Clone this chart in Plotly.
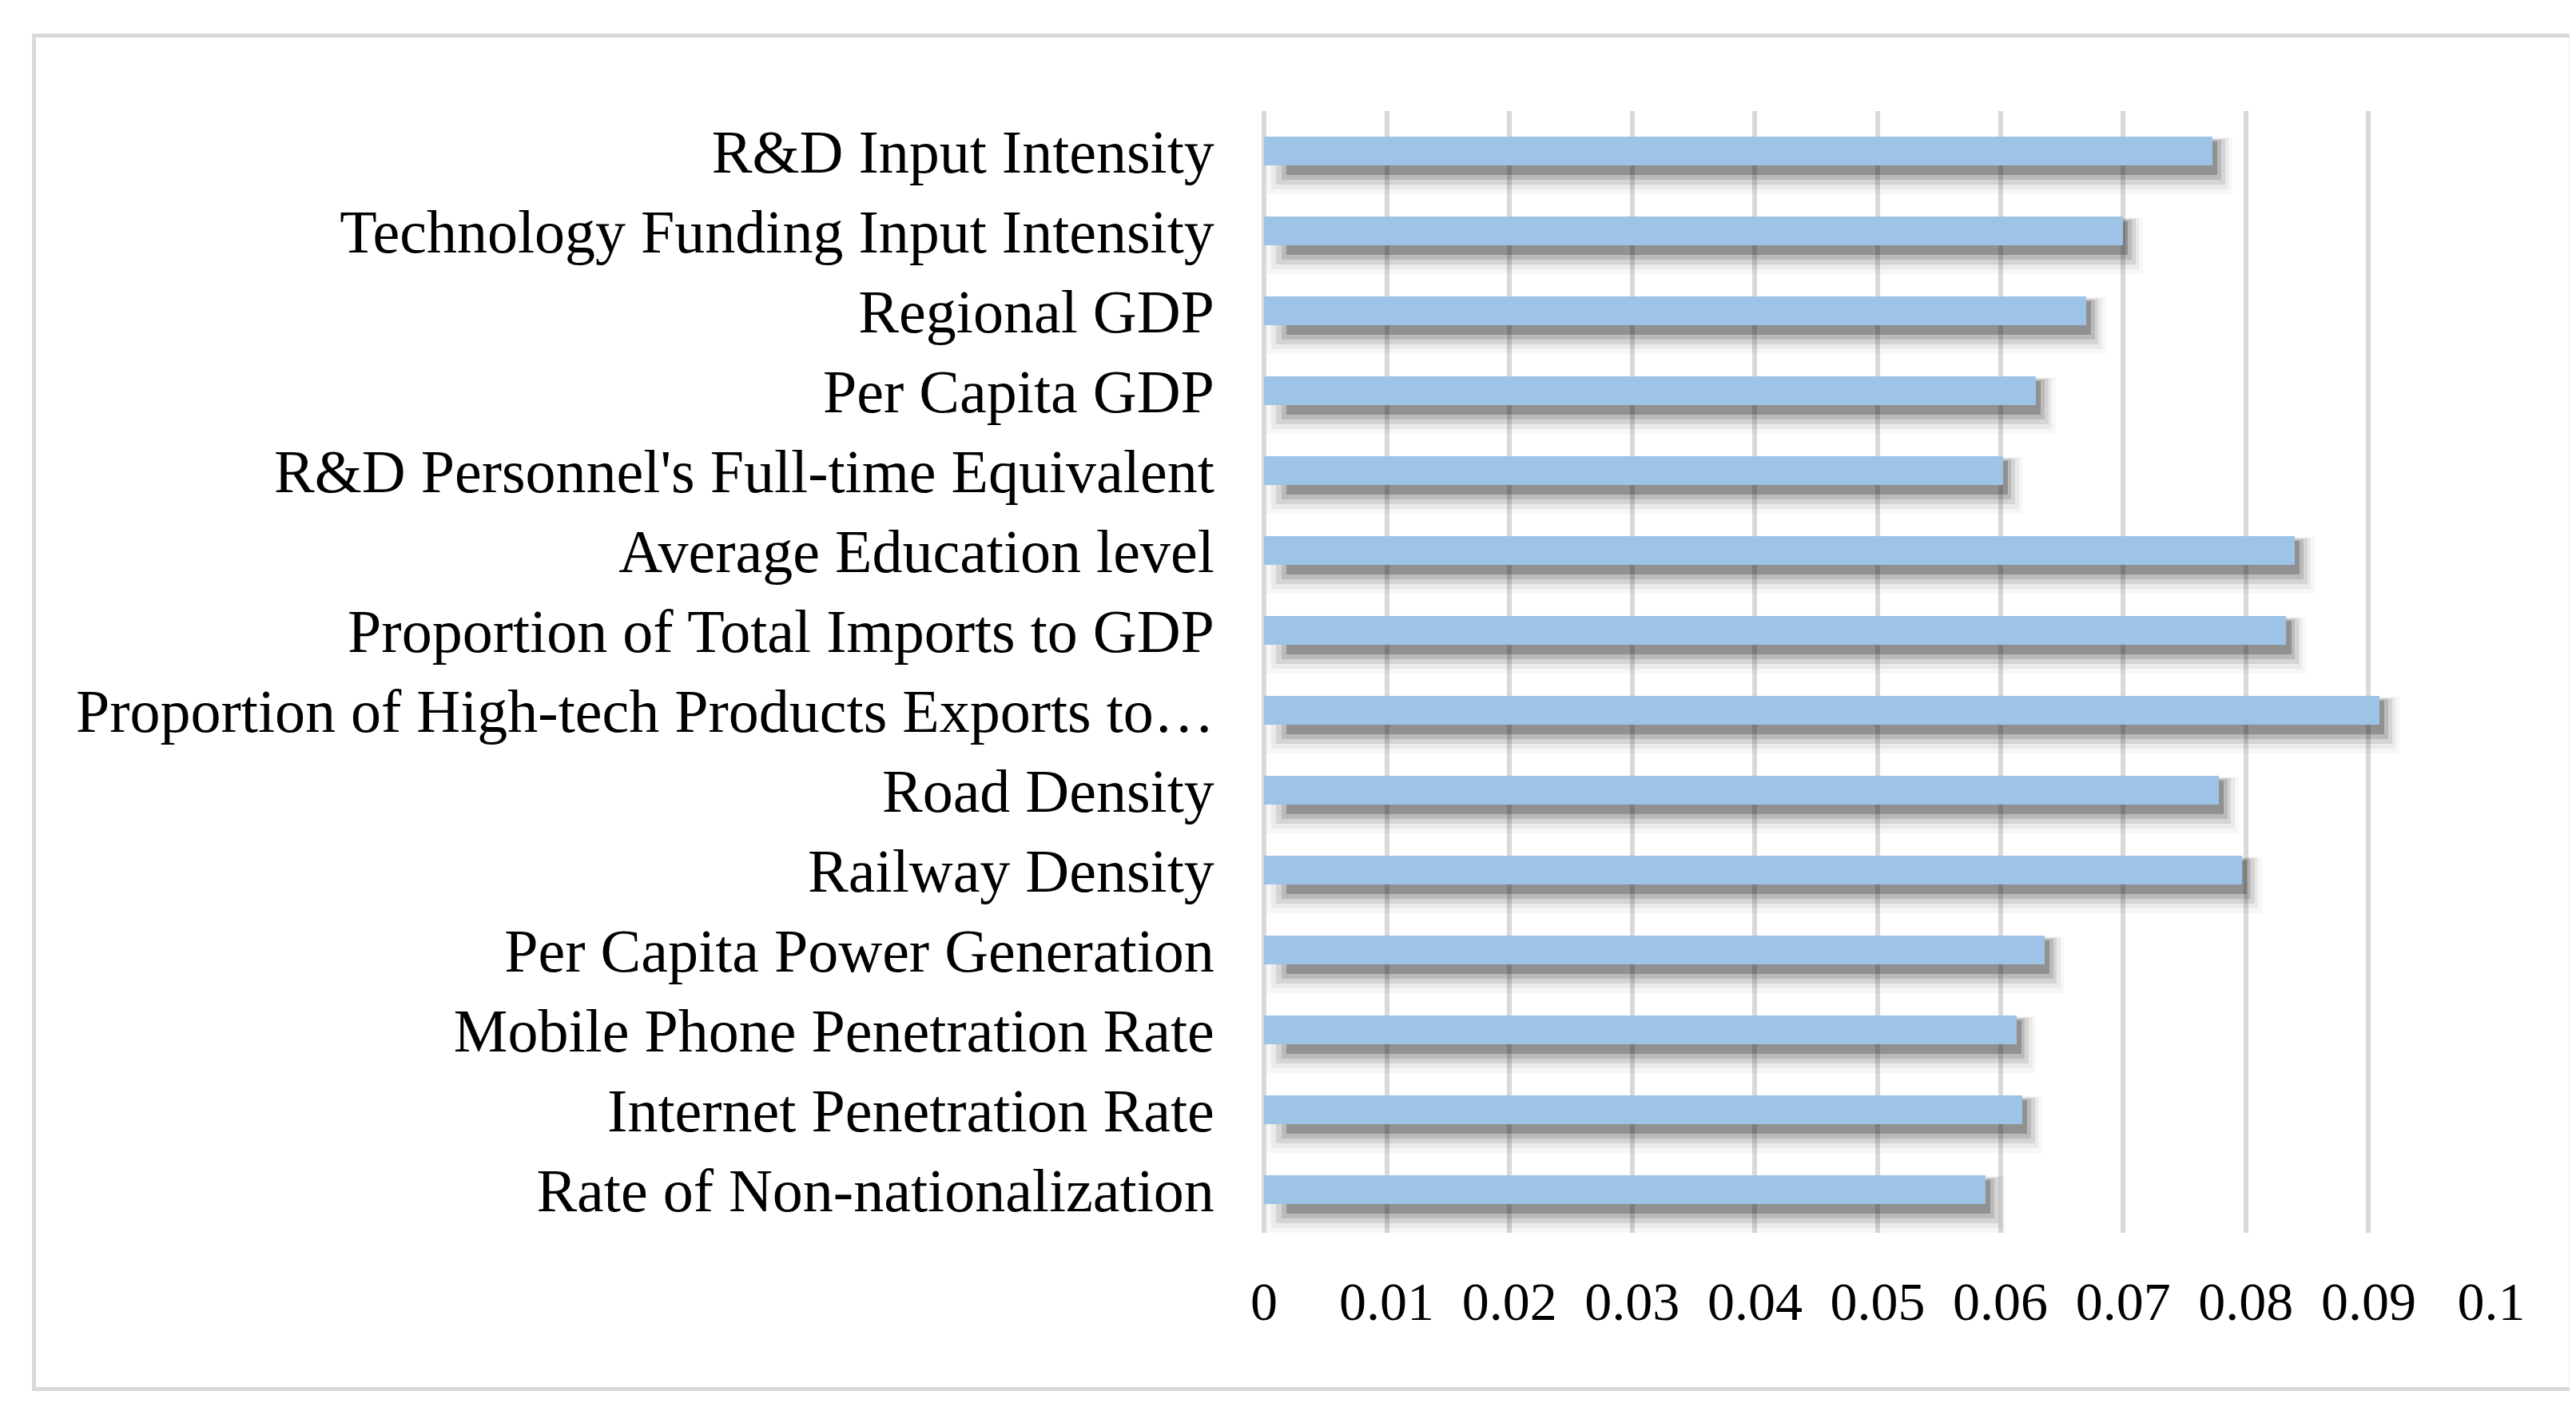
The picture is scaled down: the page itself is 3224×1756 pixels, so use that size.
import plotly.graph_objects as go

categories = [
    "R&D Input Intensity",
    "Technology Funding Input Intensity",
    "Regional GDP",
    "Per Capita GDP",
    "R&D Personnel's Full-time Equivalent",
    "Average Education level",
    "Proportion of Total Imports to GDP",
    "Proportion of High-tech Products Exports to…",
    "Road Density",
    "Railway Density",
    "Per Capita Power Generation",
    "Mobile Phone Penetration Rate",
    "Internet Penetration Rate",
    "Rate of Non-nationalization",
]
values = [0.0773, 0.0700, 0.0670, 0.0629, 0.0602, 0.0840, 0.0833,
          0.0909, 0.0778, 0.0797, 0.0636, 0.0613, 0.0618, 0.0588]
x_ticks = [0, 0.01, 0.02, 0.03, 0.04, 0.05, 0.06, 0.07, 0.08, 0.09, 0.1]
x_tick_labels = ["0", "0.01", "0.02", "0.03", "0.04", "0.05", "0.06",
                 "0.07", "0.08", "0.09", "0.1"]

W, H = 3224, 1756
L, R, T, B = 1574, 3110, 131, 1535

fig = go.Figure()

# blurred drop shadow, layered from outermost to innermost
shadow_layers = [
    # (alpha, top offset, bottom offset, start, extra length)
    (0.03, -0.17, 0.54, 0.0002, 0.0016),
    (0.05, -0.16, 0.48, 0.0006, 0.0013),
    (0.09, -0.15, 0.42, 0.0010, 0.0010),
    (0.12, -0.14, 0.36, 0.0014, 0.0007),
    (0.22, -0.12, 0.30, 0.0018, 0.0004),
]
for a, top, bot, start, extra in shadow_layers:
    fig.add_trace(go.Bar(
        y=categories,
        x=[v + extra - start for v in values],
        base=start,
        orientation="h",
        offset=top,
        width=bot - top,
        marker=dict(color=f"rgba(0,0,0,{a})", line=dict(width=0)),
        hoverinfo="skip",
        showlegend=False,
    ))

fig.add_trace(go.Bar(
    y=categories,
    x=values,
    orientation="h",
    offset=-0.178,
    width=0.356,
    marker=dict(color="#9DC3E6", line=dict(width=0)),
    showlegend=False,
))

def px_x(p):
    return (p - L) / (R - L)

def px_y(p):
    return (B - p) / (B - T)

fig.add_shape(type="rect", xref="paper", yref="paper",
              x0=px_x(34.5), x1=px_x(3210), y0=px_y(1730.5), y1=px_y(36.5),
              line=dict(color="#D9D9D9", width=5), fillcolor="rgba(0,0,0,0)",
              layer="below")

font_family = "Liberation Serif"
fig.update_layout(
    width=W, height=H,
    margin=dict(l=L, r=W - R, t=T, b=H - B, pad=0),
    paper_bgcolor="white", plot_bgcolor="white",
    barmode="overlay",
    bargap=0,
    xaxis=dict(
        range=[0, 0.1],
        tickvals=x_ticks, ticktext=x_tick_labels,
        showgrid=True, gridcolor="#D9D9D9", gridwidth=6,
        zeroline=True, zerolinecolor="#D9D9D9", zerolinewidth=6,
        showline=False,
        ticks="outside", ticklen=26, tickcolor="rgba(0,0,0,0)",
        tickfont=dict(family=font_family, size=68, color="black"),
        fixedrange=True,
    ),
    yaxis=dict(
        categoryorder="array", categoryarray=categories,
        autorange="reversed",
        showgrid=False, zeroline=False, showline=False,
        ticks="outside", ticklen=46, tickcolor="rgba(0,0,0,0)",
        tickfont=dict(family=font_family, size=76, color="black"),
        fixedrange=True,
    ),
)

fig.write_html("out.html")
